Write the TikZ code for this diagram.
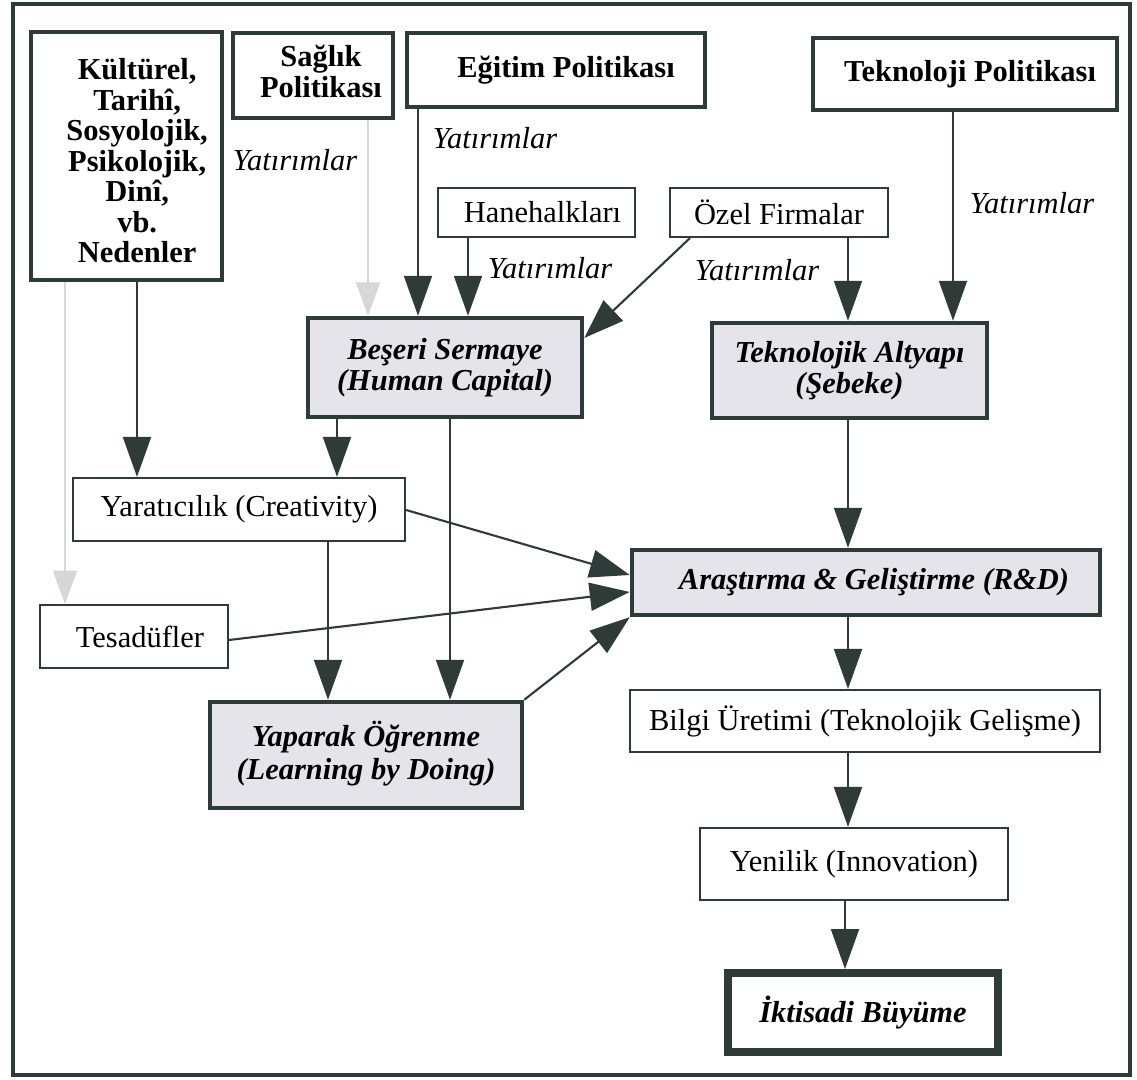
\documentclass[tikz,border=0pt]{standalone}
\usepackage{fontspec}
\setmainfont{Liberation Serif}
\usetikzlibrary{arrows.meta,calc}
\definecolor{dk}{HTML}{2E3B38}
\definecolor{boxgray}{HTML}{E4E4EA}
\definecolor{lightarr}{HTML}{D6D6DB}
\newcommand\shiftr[2]{\hspace*{#1}\begin{tabular}{@{}c@{}}#2\end{tabular}}
\tikzset{
  base/.style={draw=dk, align=center, inner sep=2pt, font=\fontsize{13}{13.2}\selectfont},
  thick box/.style={base, line width=1.8pt, font=\bfseries\fontsize{13}{13.2}\selectfont},
  thin box/.style={base, line width=0.9pt},
  gray box/.style={base, line width=1.9pt, fill=boxgray, font=\bfseries\itshape\fontsize{13}{13.2}\selectfont},
  arr/.style={draw=dk, line width=0.9pt, -{Triangle[length=0.6cm,width=0.42cm,fill=dk]}},
  lightarrow/.style={draw=lightarr, line width=0.9pt, -{Triangle[length=0.5cm,width=0.36cm,fill=lightarr]}},
  yat/.style={font=\itshape\fontsize{13}{13.2}\selectfont, inner sep=0pt}
}
\begin{document}
\begin{tikzpicture}[x=0.015cm, y=-0.015cm]
\useasboundingbox (0,0) rectangle (1137,1080);
\draw[draw=dk, line width=1.3pt] (13,4) rectangle (1130,1075);

\node[thick box, minimum width=2.865cm, minimum height=3.72cm,
  label={[align=center, font=\bfseries\fontsize{13}{13}\selectfont, xshift=0.16cm, yshift=-0.07cm]center:{Kültürel,\\Tarihî,\\Sosyolojik,\\Psikolojik,\\Dinî,\\vb.\\Nedenler}}] (kult) at (126.5,156) {};
\node[thick box, minimum width=2.4cm, minimum height=1.275cm] (saglik) at (313,75.5) {\shiftr{0.24cm}{Sağlık\\Politikası}};
\node[thick box, minimum width=4.47cm, minimum height=1.11cm] (egitim) at (556,70) {\hspace*{0.3cm}Eğitim Politikası};
\node[thick box, minimum width=4.56cm, minimum height=1.08cm] (teknpol) at (965,74) {\hspace*{0.15cm}Teknoloji Politikası};
\node[thin box, minimum width=2.955cm, minimum height=0.735cm] (hane) at (536.5,212.5) {\hspace*{0.18cm}Hanehalkları};
\node[thin box, minimum width=3.27cm, minimum height=0.735cm] (ozel) at (779,212.5) {Özel Firmalar};
\node[gray box, minimum width=4.11cm, minimum height=1.485cm] (beseri) at (445,367.5) {Beşeri Sermaye\\(Human Capital)};
\node[gray box, minimum width=4.125cm, minimum height=1.425cm] (teknalt) at (849.5,370.5) {Teknolojik Altyapı\\(Şebeke)};
\node[thin box, minimum width=4.98cm, minimum height=0.945cm] (yarat) at (239,509.5) {Yaratıcılık (Creativity)};
\node[thin box, minimum width=2.82cm, minimum height=0.945cm] (tesaduf) at (134,636.5) {\hspace*{0.18cm}Tesadüfler};
\node[gray box, minimum width=4.68cm, minimum height=1.59cm] (yaparak) at (366,755) {\shiftr{0cm}{Yaparak Öğrenme\\[1pt](Learning by Doing)}};
\node[gray box, minimum width=7.02cm, minimum height=0.975cm] (rd) at (866,582.5) {\hspace*{0.24cm}Araştırma \& Geliştirme (R\&D)};
\node[thin box, minimum width=7.05cm, minimum height=0.93cm] (bilgi) at (865,721) {Bilgi Üretimi (Teknolojik Gelişme)};
\node[thin box, minimum width=4.62cm, minimum height=1.08cm] (yenilik) at (854,864) {Yenilik (Innovation)};
\node[base, line width=3.4pt, draw=dk, minimum width=4.05cm, minimum height=1.185cm,
  font=\bfseries\itshape\fontsize{13}{13.2}\selectfont] (iktisadi) at (863,1012.5) {İktisadi Büyüme};

\node[yat] (yat1) at (295,160) {Yatırımlar};
\node[yat] (yat2) at (495,138) {Yatırımlar};
\node[yat] (yat3) at (550,268) {Yatırımlar};
\node[yat] (yat4) at (757,270) {Yatırımlar};
\node[yat] (yat5) at (1032,203) {Yatırımlar};

\draw[arr] (kult.south -| 137,0) -- (yarat.north -| 137,0);
\draw[lightarrow] (kult.south -| 65,0) -- (tesaduf.north -| 65,0);
\draw[lightarrow] (saglik.south -| 368,0) -- (beseri.north -| 368,0);
\draw[arr] (egitim.south -| 418,0) -- (beseri.north -| 418,0);
\draw[arr] (hane.south -| 468,0) -- (beseri.north -| 468,0);
\draw[arr] (ozel.south -| 690,0) -- (beseri.east |- 0,338);
\draw[arr] (ozel.south -| 848,0) -- (teknalt.north -| 848,0);
\draw[arr] (teknpol.south -| 953,0) -- (teknalt.north -| 953,0);
\draw[arr] (beseri.south -| 337,0) -- (yarat.north -| 337,0);
\draw[arr] (beseri.south -| 450,0) -- (yaparak.north -| 450,0);
\draw[arr] (yarat.south -| 328,0) -- (yaparak.north -| 328,0);
\draw[arr] (yarat.east |- 0,510) -- (rd.west |- 0,575);
\draw[arr] (tesaduf.east |- 0,640) -- (rd.west |- 0,592);
\draw[arr] (yaparak.north east) -- (rd.south west);
\draw[arr] (teknalt.south -| 848,0) -- (rd.north -| 848,0);
\draw[arr] (rd.south -| 848,0) -- (bilgi.north -| 848,0);
\draw[arr] (bilgi.south -| 848,0) -- (yenilik.north -| 848,0);
\draw[arr] (yenilik.south -| 845,0) -- (iktisadi.north -| 845,0);
\end{tikzpicture}
\end{document}
